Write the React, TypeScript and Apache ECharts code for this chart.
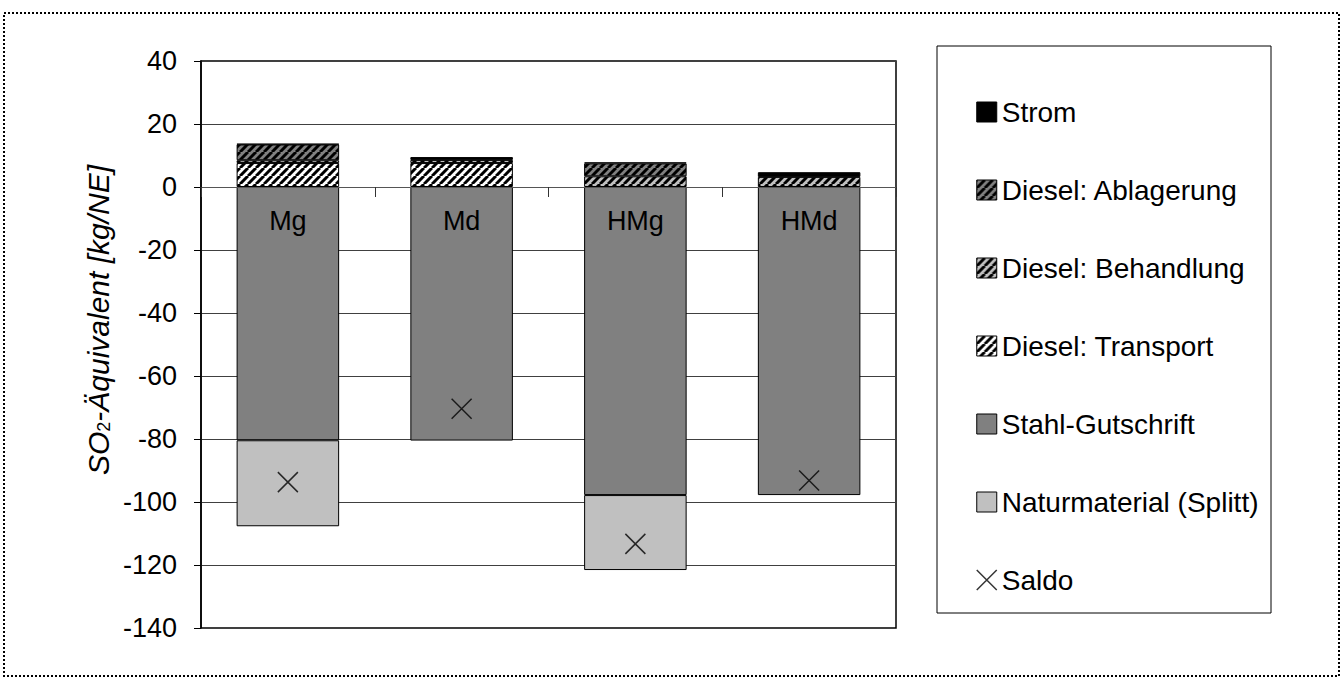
import React, { useEffect, useRef } from "react";
import * as echarts from "echarts";

const categories = ["Mg", "Md", "HMg", "HMd"];
const strom = [0.2, 0.9, 0.3, 1.5];
const ablagerung = [5.0, null, 4.1, null];
const behandlung = [0.9, 1.0, 3.4, 3.2];
const transport = [7.6, 7.6, null, null];
const stahl = [-80.4, -80.5, -97.8, -97.8];
const natur = [-27.3, null, -23.8, null];
const saldo = [-93.7, -70.4, -113.3, -93.2];

const yMin = -140;
const yMax = 40;
const yInterval = 20;

const FONT = "'Liberation Sans', Arial, sans-serif";
const X_PATH = "path://M0,0L10,10M10,0L0,10";

function hatch(bg: string, fg: string, size = 8, lw = 3) {
  const c = document.createElement("canvas");
  c.width = size;
  c.height = size;
  const ctx = c.getContext("2d")!;
  ctx.fillStyle = bg;
  ctx.fillRect(0, 0, size, size);
  ctx.strokeStyle = fg;
  ctx.lineWidth = lw;
  ctx.beginPath();
  for (const o of [-size, 0, size]) {
    ctx.moveTo(o, size);
    ctx.lineTo(o + size, 0);
  }
  ctx.stroke();
  return { image: c as any, repeat: "repeat" as const };
}

export default function App() {
  const ref = useRef<HTMLDivElement>(null);
  useEffect(() => {
    if (!ref.current) return;
    const chart = echarts.init(ref.current, undefined, { renderer: "svg" });
    const border = { borderColor: "#000", borderWidth: 1 };
    const barBase = {
      type: "bar" as const,
      stack: "total",
      barWidth: "59%",
    };
    chart.setOption({
      animation: false,
      backgroundColor: "#fff",
      grid: {
        left: 201,
        right: 447,
        top: 61,
        bottom: 52,
        show: true,
        borderColor: "#000",
        borderWidth: 1.5,
        backgroundColor: "transparent",
      },
      xAxis: {
        type: "category",
        data: categories,
        z: 10,
        axisLine: { onZero: true, lineStyle: { color: "#555", width: 1 } },
        axisTick: { show: true, length: 10, lineStyle: { color: "#333" } },
        axisLabel: { show: false },
      },
      yAxis: {
        type: "value",
        min: yMin,
        max: yMax,
        interval: yInterval,
        axisLine: { show: true, lineStyle: { color: "#000", width: 1.5 } },
        axisTick: { show: true, length: 7, lineStyle: { color: "#000" } },
        axisLabel: { fontSize: 27, color: "#000", fontFamily: FONT, margin: 24 },
        splitLine: { show: true, lineStyle: { color: "#404040", width: 1 } },
      },
      legend: {
        orient: "vertical",
        left: 971,
        top: 93,
        itemWidth: 20,
        itemHeight: 20,
        itemGap: 50,
        textStyle: { fontSize: 28, color: "#000", fontFamily: FONT, lineHeight: 28 },
        data: [
          { name: "Strom", icon: "rect", itemStyle: border },
          { name: "Diesel: Ablagerung", icon: "rect", itemStyle: border },
          { name: "Diesel: Behandlung", icon: "rect", itemStyle: border },
          { name: "Diesel: Transport", icon: "rect", itemStyle: border },
          { name: "Stahl-Gutschrift", icon: "rect", itemStyle: border },
          { name: "Naturmaterial (Splitt)", icon: "rect", itemStyle: border },
          {
            name: "Saldo",
            icon: X_PATH,
            itemStyle: { color: "transparent", borderColor: "#000", borderWidth: 1.5 },
          },
        ],
      },
      graphic: [
        {
          type: "rect",
          z: 100,
          shape: { x: 4, y: 13, width: 1335, height: 663 },
          style: { fill: "none", stroke: "#000", lineWidth: 2, lineDash: [2, 2] },
        },
        {
          type: "rect",
          z: 100,
          shape: { x: 937, y: 46, width: 334, height: 567 },
          style: { fill: "none", stroke: "#000", lineWidth: 1 },
        },
        {
          type: "text",
          z: 100,
          x: 98,
          y: 320,
          rotation: Math.PI / 2,
          style: {
            text: "SO{sub|2}-Äquivalent [kg/NE]",
            fontSize: 30,
            fontStyle: "italic",
            fontFamily: FONT,
            fill: "#000",
            align: "center",
            verticalAlign: "middle",
            rich: {
              sub: {
                fontSize: 18,
                fontStyle: "normal",
                fontFamily: FONT,
                fill: "#000",
                verticalAlign: "bottom",
                padding: [12, 0, 0, 0],
              },
            },
          },
        },
      ],
      series: [
        {
          ...barBase,
          name: "Diesel: Transport",
          data: transport,
          itemStyle: { color: hatch("#ffffff", "#000000"), ...border },
        },
        {
          ...barBase,
          name: "Diesel: Behandlung",
          data: behandlung,
          itemStyle: { color: hatch("#c0c0c0", "#000000"), ...border },
        },
        {
          ...barBase,
          name: "Diesel: Ablagerung",
          data: ablagerung,
          itemStyle: { color: hatch("#808080", "#000000"), ...border },
        },
        {
          ...barBase,
          name: "Strom",
          data: strom,
          itemStyle: { color: "#000000", ...border },
        },
        {
          ...barBase,
          name: "Stahl-Gutschrift",
          data: stahl,
          itemStyle: { color: "#808080", ...border },
          label: {
            show: true,
            position: "insideTop",
            distance: 20,
            formatter: "{b}",
            fontSize: 27,
            color: "#000",
            fontFamily: FONT,
          },
        },
        {
          ...barBase,
          name: "Naturmaterial (Splitt)",
          data: natur,
          itemStyle: { color: "#c0c0c0", ...border },
        },
        {
          type: "scatter",
          name: "Saldo",
          data: saldo,
          symbol: X_PATH,
          symbolSize: 20,
          z: 5,
          itemStyle: { color: "transparent", borderColor: "#000", borderWidth: 1.5 },
        },
      ],
    });
    return () => chart.dispose();
  }, []);
  return (
    <div
      ref={ref}
      style={{ position: "fixed", left: 0, top: 0, width: 1343, height: 680 }}
    />
  );
}
